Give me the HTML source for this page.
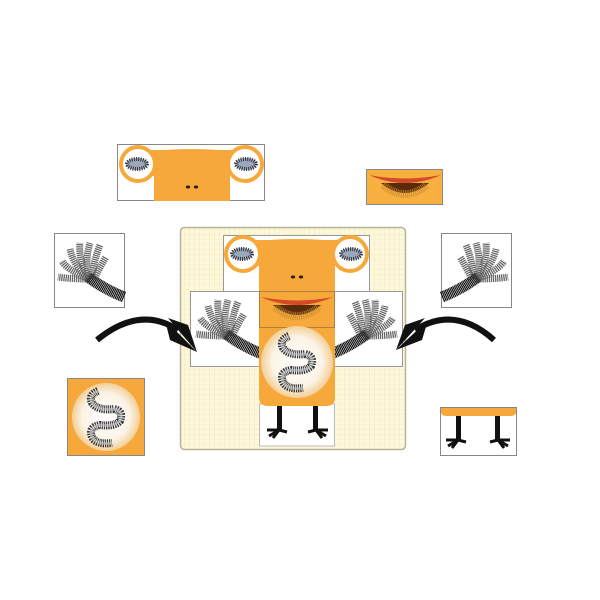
<!DOCTYPE html>
<html><head><meta charset="utf-8"><style>html,body{margin:0;padding:0;background:#fff}svg{display:block}</style></head>
<body>
<svg width="600" height="600" viewBox="0 0 600 600" xmlns="http://www.w3.org/2000/svg">
<defs>
<pattern id="grid" width="5" height="5" patternUnits="userSpaceOnUse">
<rect width="5" height="5" fill="#fdf8dc"/>
<path d="M5 0V5H0" fill="none" stroke="#eee2a6" stroke-width="0.6"/>
</pattern>
<radialGradient id="belly" cx="0.5" cy="0.5" r="0.5">
<stop offset="0" stop-color="#fff"/><stop offset="0.7" stop-color="#fbf3e6"/><stop offset="1" stop-color="#f3cf96"/>
</radialGradient>
<g id="head">
<path d="M36 6 Q73 2 112 6 L112 56 L36 56 Z" fill="#f6a93a"/>
<rect x="20" y="5" width="106" height="26" fill="#f6a93a"/>
<circle cx="20" cy="19" r="17" fill="#fff" stroke="#f6a93a" stroke-width="4"/>
<circle cx="127" cy="19" r="17" fill="#fff" stroke="#f6a93a" stroke-width="4"/>
<ellipse cx="19" cy="19" rx="11" ry="6" fill="#9aa7bd"/>
<ellipse cx="19" cy="19" rx="10" ry="5" fill="none" stroke="#333" stroke-width="4" stroke-dasharray="1 1.2"/>
<ellipse cx="128" cy="19" rx="11" ry="6" fill="#9aa7bd"/>
<ellipse cx="128" cy="19" rx="10" ry="5" fill="none" stroke="#333" stroke-width="4" stroke-dasharray="1 1.2"/>
<ellipse cx="70" cy="42" rx="2.2" ry="1.5" fill="#2a1a10"/>
<ellipse cx="78" cy="42" rx="2.2" ry="1.5" fill="#2a1a10"/>
</g>
<g id="hand">
<path d="M70 64 Q50 56 34 44" fill="none" stroke="#111" stroke-width="11" stroke-dasharray="1.2 0.5"/>
<g fill="none" stroke="#333" stroke-width="7" stroke-dasharray="1.3 0.8" opacity="0.75">
<path d="M36 46 Q30 30 36 10"/>
<path d="M36 46 Q24 28 26 10"/>
<path d="M36 46 Q20 34 16 16"/>
<path d="M36 46 Q14 38 8 28"/>
<path d="M36 46 Q16 46 4 44"/>
<path d="M38 46 Q40 26 46 12"/>
<path d="M40 46 Q46 34 52 24"/>
</g>
</g>
<g id="gut">
<path d="M-8 -26 Q-18 -22 -14 -14 Q-8 -6 8 -8 Q18 -6 14 4 Q8 10 -6 8 Q-18 10 -14 20 Q-10 28 6 26" fill="none" stroke="#333" stroke-width="8" stroke-dasharray="1.2 0.9"/>
<path d="M-8 -26 Q-18 -22 -14 -14 Q-8 -6 8 -8 Q18 -6 14 4 Q8 10 -6 8 Q-18 10 -14 20 Q-10 28 6 26" fill="none" stroke="#c8ccd4" stroke-width="3" opacity="0.6"/>
</g>
<g id="foot">
<rect x="-2" y="0" width="5" height="24" fill="#111"/>
<path d="M0 24 L-12 24 M0 24 L-10 30 M0 24 L-6 32 M0 24 L8 26" stroke="#111" stroke-width="3" fill="none"/>
</g>
<g id="mouth">
<path d="M14 14 Q38 34 62 14 Z" fill="#5a2a0c"/>
<path d="M16 16 Q38 34 60 16" fill="none" stroke="#c58a30" stroke-width="8" stroke-dasharray="1.2 0.8" opacity="0.7"/>
<path d="M2 6 Q38 22 74 6 Q38 13 2 6Z" fill="#d44a26"/>
</g>
</defs>

<rect x="117.5" y="144.5" width="147" height="56" fill="#fff" stroke="#888"/>
<use href="#head" x="118" y="145"/>
<rect x="366.5" y="169.5" width="76" height="35" fill="#f8b040" stroke="#888"/>
<use href="#mouth" x="367" y="169"/>
<rect x="54.5" y="233.5" width="70" height="74" fill="#fff" stroke="#888"/>
<use href="#hand" x="54" y="233"/>
<rect x="441.5" y="233.5" width="70" height="74" fill="#fff" stroke="#888"/>
<use href="#hand" transform="translate(512 233) scale(-1 1)"/>

<rect x="180.5" y="227.5" width="225" height="222" rx="4" fill="url(#grid)" stroke="#b8b39a" stroke-width="1.5"/>
<rect x="223.5" y="235.5" width="146" height="56" fill="#fff" stroke="#999"/>
<use href="#head" x="223" y="235"/>
<rect x="190.5" y="291.5" width="212" height="75" fill="#fff" stroke="#999"/>
<use href="#hand" x="192" y="290"/>
<use href="#hand" transform="translate(401 290) scale(-1 1)"/>
<rect x="259.5" y="404" width="75" height="42" fill="#fff" stroke="#bbb"/>
<path d="M259 291 H335 V397 Q335 406 326 406 H268 Q259 406 259 397 Z" fill="#f6a93a"/>
<rect x="259.5" y="291.5" width="75" height="36" fill="none" stroke="#b08040"/>
<use href="#mouth" x="259" y="291"/>
<circle cx="297" cy="362" r="36" fill="url(#belly)"/>
<use href="#gut" x="297" y="362"/>
<use href="#foot" x="279" y="406"/>
<use href="#foot" transform="translate(316 406) scale(-1 1)"/>

<rect x="67.5" y="378.5" width="77" height="77" fill="#f6a93a" stroke="#888"/>
<circle cx="106" cy="417" r="34" fill="url(#belly)"/>
<use href="#gut" x="106" y="417"/>
<rect x="440.5" y="407.5" width="76" height="48" fill="#fff" stroke="#888"/>
<path d="M441 408 H516 V412 Q516 416 510 416 H447 Q441 416 441 412Z" fill="#f6a93a"/>
<use href="#foot" x="458" y="416"/>
<use href="#foot" transform="translate(498 416) scale(-1 1)"/>

<path d="M97 340 Q140 305 178 330" fill="none" stroke="#111" stroke-width="6"/>
<path d="M168 318 L197 352 L188 325 Z M165 320 L197 352 L170 340Z" fill="#111"/>
<path d="M494 340 Q455 305 415 330" fill="none" stroke="#111" stroke-width="6"/>
<path d="M425 318 L396 350 L405 325 Z M428 320 L396 350 L422 340Z" fill="#111"/>
</svg>
</body></html>
